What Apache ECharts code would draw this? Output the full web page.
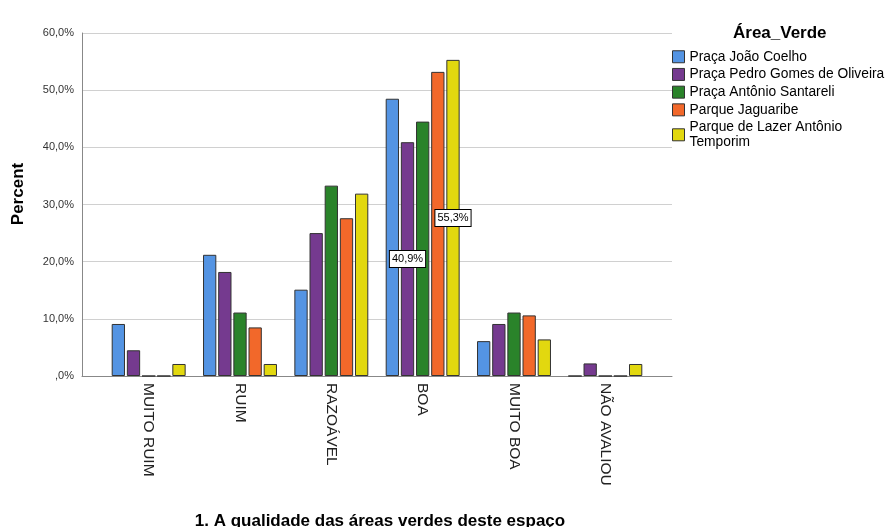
<!DOCTYPE html>
<html><head><meta charset="utf-8">
<script src="https://cdn.jsdelivr.net/npm/echarts@6/dist/echarts.min.js"></script>
<style>html,body{margin:0;padding:0;background:#fff}#c{width:885px;height:527px}</style>
</head><body><div id="c"></div>
<script>
const categories = ['MUITO RUIM', 'RUIM', 'RAZOÁVEL', 'BOA', 'MUITO BOA', 'NÃO AVALIOU'];
const seriesNames = ['Praça João Coelho', 'Praça Pedro Gomes de Oliveira', 'Praça Antônio Santareli', 'Parque Jaguaribe', 'Parque de Lazer Antônio\nTemporim'];
const joaoCoelho = [9.1, 21.2, 15.1, 48.5, 6.1, 0];
const pedroGomes = [4.5, 18.2, 25.0, 40.9, 9.1, 2.2];
const antonioSantareli = [0, 11.1, 33.3, 44.5, 11.1, 0];
const jaguaribe = [0, 8.5, 27.6, 53.2, 10.6, 0];
const lazerTemporim = [2.1, 2.1, 31.9, 55.3, 6.4, 2.1];
const yTicks = [0, 10, 20, 30, 40, 50, 60];
const labeled = [[1, 3], [4, 3]]; // [series index, category index]
const colors = ['#5494E3', '#753A8F', '#2A832A', '#F2682A', '#E2D80F'];
const allValues = [joaoCoelho, pedroGomes, antonioSantareli, jaguaribe, lazerTemporim];

const fmt = v => (v === 0 ? ',0%' : v.toFixed(1).replace('.', ',') + '%');
const FONT = 'Liberation Sans';

const chart = echarts.init(document.getElementById('c'), null, {renderer: 'canvas'});
const series = allValues.map((vals, si) => ({
  name: seriesNames[si],
  type: 'bar',
  xAxisIndex: 1,
  yAxisIndex: 1,
  barWidth: 13.3,
  barGap: '14%',
  itemStyle: {color: colors[si], borderColor: '#333', borderWidth: 1},
  emphasis: {disabled: true},
  data: vals.map((v, ci) => {
    const isL = labeled.some(p => p[0] === si && p[1] === ci);
    return isL ? {value: v, label: {
      show: true, position: 'inside', formatter: p => fmt(p.value),
      color: '#000', fontFamily: FONT, fontSize: 11,
      backgroundColor: '#fff', borderColor: '#000', borderWidth: 1, padding: [3, 2, 2, 2]
    }} : v;
  })
}));

chart.setOption({
  animation: false,
  color: colors,
  title: {text: 'Área_Verde', left: 728, top: 20,
    textStyle: {fontFamily: FONT, fontSize: 17, fontWeight: 'bold', color: '#000'}},
  legend: {
    orient: 'vertical', left: 672, top: 49.5, itemWidth: 12, itemHeight: 12, itemGap: 3.2,
    icon: 'rect', padding: 0,
    textStyle: {fontFamily: FONT, fontSize: 13.8, color: '#000', lineHeight: 14.5},
    itemStyle: {borderColor: '#333', borderWidth: 1},
    data: seriesNames
  },
  graphic: [{
    type: 'text', x: 18, y: 194, rotation: Math.PI / 2,
    style: {text: 'Percent', fontFamily: FONT, fontSize: 17, fontWeight: 'bold', fill: '#000',
      align: 'center', verticalAlign: 'middle'}
  }],
  grid: [
    {left: 82, right: 213, top: 33, bottom: 151, containLabel: false, outerBoundsMode: 'none'},
    {left: 103, width: 548, top: 33, bottom: 151, containLabel: false, outerBoundsMode: 'none'}
  ],
  xAxis: [
    {type: 'value', gridIndex: 0, min: 0, max: 1, axisLabel: {show: false}, axisTick: {show: false},
      splitLine: {show: false}, axisLine: {show: true, onZero: false, lineStyle: {color: '#888', width: 1}},
      name: '1. A qualidade das áreas verdes deste espaço', nameLocation: 'middle', nameGap: 137,
      nameTextStyle: {fontFamily: FONT, fontSize: 17, fontWeight: 'bold', color: '#000', padding: [0, 0, 0, 6]}},
    {type: 'category', gridIndex: 1, data: categories, axisLine: {show: false}, axisTick: {show: false},
      axisLabel: {rotate: -90, margin: 7, fontFamily: FONT, fontSize: 15.5, color: '#222', interval: 0}}
  ],
  yAxis: [
    {type: 'value', gridIndex: 0, min: 0, max: 60, interval: 10,
      axisLine: {show: true, lineStyle: {color: '#888', width: 1}}, axisTick: {show: false},
      splitLine: {show: true, lineStyle: {color: '#d0d0d0', width: 1}},
      axisLabel: {formatter: v => fmt(v), fontFamily: FONT, fontSize: 11, color: '#333', margin: 8,
        customValues: yTicks}},
    {type: 'value', gridIndex: 1, min: 0, max: 60, interval: 10, show: false}
  ],
  series: series
});
</script></body></html>
